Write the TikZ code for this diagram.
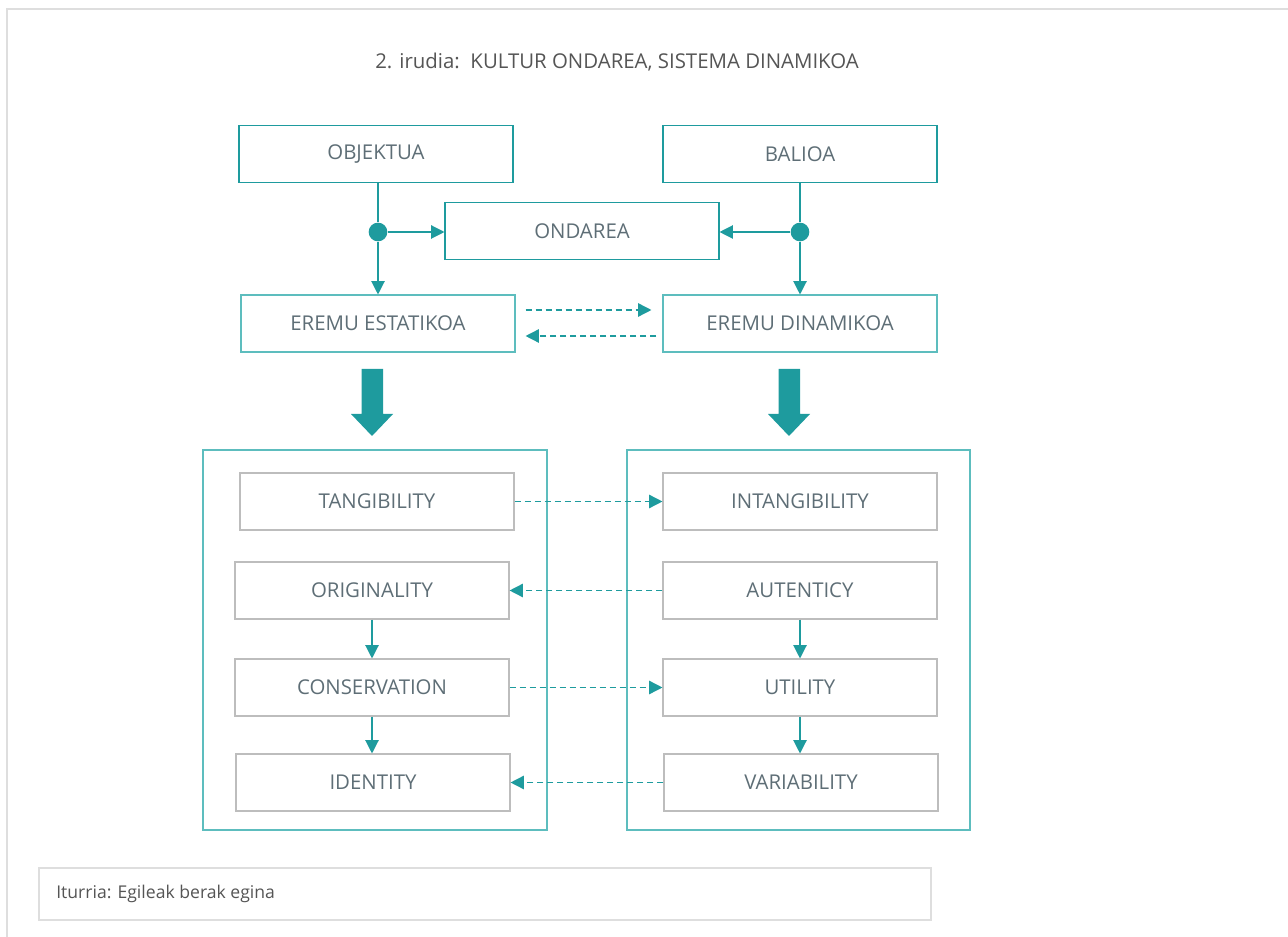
\documentclass[tikz,border=0pt]{standalone}
\usepackage{fontspec}
\setmainfont{Open Sans}
\usetikzlibrary{arrows.meta,calc}
\definecolor{teal1}{HTML}{1E9B9E}
\definecolor{teal2}{HTML}{5DBDBE}
\definecolor{boxgray}{HTML}{BDBDBD}
\definecolor{framegray}{HTML}{DEDEDE}
\definecolor{txt}{HTML}{5E6E76}
\definecolor{titletxt}{HTML}{555555}
\tikzset{
  basebox/.style={rectangle, minimum width=205.5pt, minimum height=42.75pt, inner sep=0pt,
    font=\fontsize{15.3pt}{17pt}\selectfont, text=txt, line width=0.8pt},
  topbox/.style={basebox, draw=teal1},
  zonebox/.style={basebox, draw=teal2},
  itembox/.style={basebox, draw=boxgray},
  link/.style={teal1, line width=0.9pt, -{Triangle[length=10pt,width=10pt]}},
  dashlink/.style={link, line width=1.1pt, dash pattern=on 4.5pt off 3pt},
  junction/.style={circle, fill=teal1, minimum size=14pt, inner sep=0pt},
  bigarrow/.style={fill=teal1, draw=none},
  group/.style={draw=teal2, line width=0.9pt},
}
\begin{document}
\begin{tikzpicture}[x=0.75pt,y=-0.75pt]
\useasboundingbox (0,0) rectangle (1288,937);
% page frame
\draw[framegray, line width=1.4pt] (7,937) -- (7,9) -- (1288,9);

% title
\node[font=\fontsize{15.3pt}{17pt}\selectfont, text=titletxt] (title) at (617,62)
  {2. irudia:\ \ KULTUR ONDAREA, SISTEMA DINAMIKOA};

% upper part
\node[topbox] (obj) at (376,154) {OBJEKTUA};
\node[topbox] (bal) at (800,154) {BALIOA};
\node[topbox] (ond) at (582,231) {ONDAREA};
\node[zonebox] (est) at (378,323.5) {EREMU ESTATIKOA};
\node[zonebox] (din) at (800,323.5) {EREMU DINAMIKOA};

\node[junction] (jl) at (378,232) {};
\node[junction] (jr) at (800,232) {};

\draw[teal1, line width=0.9pt] (obj.south -| jl) -- (jl);
\draw[link] (jl) -- (est.north -| jl);
\draw[link] (jl) -- (jl -| ond.west);
\draw[teal1, line width=0.9pt] (bal.south -| jr) -- (jr);
\draw[link] (jr) -- (din.north -| jr);
\draw[link] (jr) -- (jr -| ond.east);

\coordinate (e1) at ($(est.east)+(10,-13.5)$);
\coordinate (d1) at ($(din.west)+(-11,-13.5)$);
\coordinate (e2) at ($(est.east)+(10,12.5)$);
\coordinate (d2) at ($(din.west)+(-6,12.5)$);
\draw[dashlink] (e1) -- (d1);
\draw[dashlink] (d2) -- (e2);

% broad arrows
\fill[bigarrow] (361.5,369) -- (383,369) -- (383,414) -- (393,414) -- (372,436)
  -- (351,414) -- (361.5,414) -- cycle;
\fill[bigarrow] (778.5,369) -- (800,369) -- (800,414) -- (810,414) -- (789,436)
  -- (768,414) -- (778.5,414) -- cycle;

% groups
\draw[group] (203,450) rectangle (547,830);
\draw[group] (627,450) rectangle (970,830);

% items
\node[itembox] (tan) at (377,501.5) {TANGIBILITY};
\node[itembox] (int) at (800,501.5) {INTANGIBILITY};
\node[itembox] (ori) at (372,590.5) {ORIGINALITY};
\node[itembox] (aut) at (800,590.5) {AUTENTICY};
\node[itembox] (con) at (372,687.5) {CONSERVATION};
\node[itembox] (uti) at (800,687.5) {UTILITY};
\node[itembox] (ide) at (373,782.5) {IDENTITY};
\node[itembox] (var) at (801,782.5) {VARIABILITY};

\draw[link] (ori.south) -- (con.north -| ori.south);
\draw[link] (con.south) -- (ide.north -| con.south);
\draw[link] (aut.south) -- (uti.north -| aut.south);
\draw[link] (uti.south) -- (var.north -| uti.south);

\draw[dashlink] (tan.east) -- (int.west |- tan.east);
\draw[dashlink] (aut.west) -- (ori.east |- aut.west);
\draw[dashlink] (con.east) -- (uti.west |- con.east);
\draw[dashlink] (var.west) -- (ide.east |- var.west);

% source line
\draw[framegray, line width=0.9pt] (39,868) rectangle (931,920);
\node[anchor=west, font=\fontsize{13.2pt}{15pt}\selectfont, text=titletxt, inner sep=0pt] (src)
  at (56,894) {Iturria: Egileak berak egina};
\end{tikzpicture}
\end{document}
